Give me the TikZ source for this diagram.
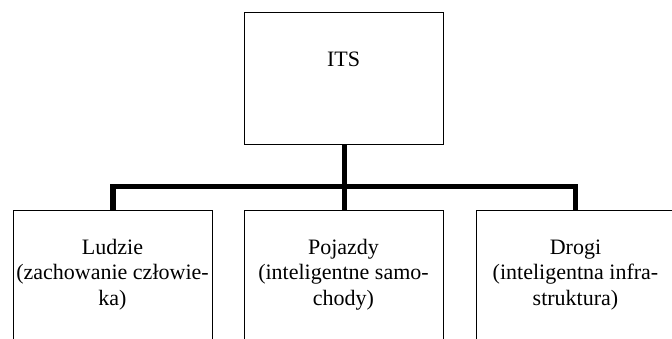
\documentclass[tikz,border=0pt]{standalone}
\usepackage{fontspec}
\setmainfont{Liberation Serif}
\begin{document}
\begin{tikzpicture}[x=1pt,y=-1pt,
  boxnode/.style={draw=black,line width=1.3pt,minimum width=199pt,inner sep=0pt,anchor=north west,fill=white},
  labelnode/.style={align=center,inner sep=0pt,anchor=base,font=\fontsize{22}{25.5}\selectfont},
  conn/.style={line width=5.8pt,line join=miter,line cap=butt}]
\useasboundingbox (0,0) rectangle (672,338);
\clip (0,0) rectangle (672,338);
\node[boxnode,minimum height=132pt] (its) at (244,12) {};
\node[boxnode,minimum height=170pt] (lud) at (13,210) {};
\node[boxnode,minimum height=170pt] (poj) at (244,210) {};
\node[boxnode,minimum height=170pt] (dro) at (476,210) {};
\node[labelnode] (itst) at (343.5,66) {ITS};
\node[labelnode] (ludt) at (112.5,305) {Ludzie\\(zachowanie człowie-\\ka)};
\node[labelnode] (pojt) at (343.5,305) {Pojazdy\\(inteligentne samo-\\chody)};
\node[labelnode] (drot) at (575.5,305) {Drogi\\(inteligentna infra-\\struktura)};
\coordinate (hl) at (113,186.5);
\coordinate (hr) at (575.5,186.5);
\coordinate (hm) at (344.5,186.5);
\draw[conn] (113,210) -- (hl) -- (hr) -- (575.5,210);
\draw[conn] (344.5,144) -- (hm) -- (344.5,210);
\end{tikzpicture}
\end{document}
